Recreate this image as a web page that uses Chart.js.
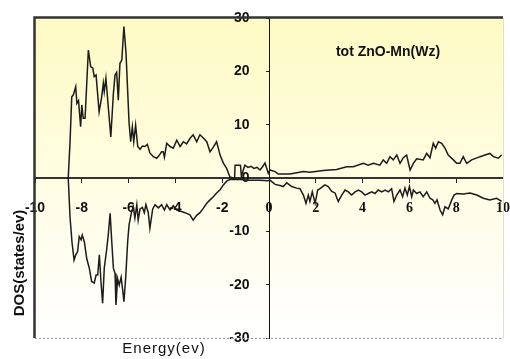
<!DOCTYPE html>
<html>
<head>
<meta charset="utf-8">
<script src="https://cdn.jsdelivr.net/npm/chart.js@4/dist/chart.umd.min.js"></script>
<style>
  html, body { margin: 0; padding: 0; background: #fff; }
  #wrap { width: 510px; height: 359px; }
</style>
</head>
<body>
<div id="wrap"><canvas id="dosChart" width="510" height="359"></canvas></div>
<script>
// spin up (positive DOS)
const upEnergy = [-8.58, -8.50, -8.43, -8.36, -8.26, -8.21, -8.14, -8.05, -8.00, -7.94, -7.86, -7.72, -7.62, -7.53, -7.47, -7.39,
  -7.26, -7.15, -7.08, -7.04, -6.97, -6.87, -6.76, -6.65, -6.58, -6.51, -6.44, -6.37, -6.29, -6.20, -6.11, -5.98,
  -5.91, -5.84, -5.78, -5.70, -5.61, -5.51, -5.41, -5.30, -5.20, -5.09, -4.94, -4.80, -4.70, -4.59, -4.52, -4.47,
  -4.37, -4.23, -4.09, -3.94, -3.80, -3.66, -3.52, -3.38, -3.24, -3.09, -2.95, -2.81, -2.66, -2.52, -2.38, -2.24,
  -2.09, -1.95, -1.81, -1.67, -1.53, -1.47, -1.45, -1.31, -1.22, -1.18, -1.10, -1.03, -0.90, -0.77, -0.64, -0.51,
  -0.38, -0.26, -0.17, -0.03, 0.04, 0.26, 0.40, 0.90, 1.47, 1.75, 2.32, 2.89, 3.32, 3.60, 4.03, 4.24,
  4.46, 4.74, 4.88, 5.03, 5.17, 5.31, 5.46, 5.60, 5.74, 5.88, 6.03, 6.17, 6.31, 6.59, 6.74, 6.88,
  7.02, 7.12, 7.24, 7.38, 7.52, 7.66, 7.88, 8.02, 8.16, 8.30, 8.45, 8.66, 9.02, 9.23, 9.44, 9.59, 9.80, 9.94];
const upDos = [0, 7, 15.2, 15.6, 17.1, 14.0, 14.5, 9.6, 13.7, 11.2, 11.2, 24.0, 20.9, 20.6, 19.0, 19.3,
  12.4, 15.2, 17.8, 16.2, 18.7, 13.4, 7.7, 15.9, 19.3, 19.8, 14.6, 21.5, 22.1, 28.4, 23.4, 10.3,
  6.8, 9.6, 6.8, 9.9, 5.9, 5.4, 6.0, 5.9, 6.3, 4.7, 4.0, 3.7, 4.2, 4.9, 4.9, 3.9,
  6.5, 5.9, 5.6, 7.1, 5.9, 6.8, 6.4, 7.4, 8.1, 6.8, 8.1, 7.5, 6.8, 4.9, 5.8, 6.8,
  4.3, 2.8, 1.8, 0.2, 0, 0, 2.4, 2.4, 2.4, 0.3, 1.5, 2.4, 2.0, 2.2, 1.8, 2.0,
  1.5, 2.2, 2.8, 0.9, 1.5, 1.2, 0.75, 0.75, 1.2, 1.1, 1.4, 1.6, 2.1, 2.1, 2.75, 2.4,
  2.75, 2.4, 3.4, 2.75, 4.0, 3.4, 4.3, 2.75, 3.8, 4.3, 1.5, 2.75, 3.6, 3.4, 4.6, 3.8,
  6.5, 5.6, 6.8, 6.5, 5.6, 4.3, 3.4, 2.75, 2.75, 4.0, 2.75, 3.4, 4.0, 4.3, 4.6, 4.0, 3.7, 4.3];

// spin down (negative DOS)
const downEnergy = [-8.58, -8.50, -8.42, -8.33, -8.26, -8.18, -8.11, -8.03, -7.98, -7.89, -7.79, -7.68, -7.58, -7.47, -7.39, -7.32,
  -7.25, -7.18, -7.11, -7.04, -6.94, -6.87, -6.79, -6.72, -6.65, -6.58, -6.54, -6.47, -6.40, -6.32, -6.25, -6.20,
  -6.12, -6.04, -5.98, -5.87, -5.80, -5.73, -5.65, -5.59, -5.51, -5.41, -5.33, -5.26, -5.16, -5.09, -4.97, -4.87,
  -4.73, -4.59, -4.47, -4.37, -4.23, -4.09, -3.94, -3.80, -3.59, -3.38, -3.24, -3.09, -2.95, -2.81, -2.66, -2.52,
  -2.38, -2.24, -2.09, -1.95, -1.81, -1.67, -1.24, -0.81, -0.38, -0.04, 0.04, 0.26, 0.47, 0.61, 0.76, 0.97,
  1.18, 1.32, 1.47, 1.58, 1.68, 1.75, 1.85, 1.97, 2.08, 2.18, 2.39, 2.53, 2.68, 2.82, 2.96, 3.11,
  3.25, 3.39, 3.53, 3.68, 3.82, 3.96, 4.10, 4.24, 4.39, 4.53, 4.67, 4.82, 4.96, 5.10, 5.24, 5.34,
  5.46, 5.60, 5.71, 5.81, 5.91, 6.00, 6.10, 6.17, 6.31, 6.45, 6.59, 6.74, 6.88, 7.00, 7.09, 7.18,
  7.31, 7.42, 7.52, 7.66, 7.81, 7.91, 8.02, 8.30, 8.59, 8.88, 9.16, 9.44, 9.73, 9.94];
const downDos = [0, -7.5, -12, -15.4, -14.4, -13.8, -11.0, -11.6, -10.7, -12.0, -15.1, -16.9, -19.4, -19.7, -18.2, -18.2,
  -14.4, -19.5, -23.5, -16.9, -13.5, -10.7, -6.6, -11.9, -16.9, -17.9, -23.8, -18.9, -20.1, -18.6, -21.1, -23.2,
  -18.4, -11.9, -8.8, -6.3, -5.4, -7.5, -5.0, -7.9, -5.8, -5.5, -6.5, -5.0, -6.5, -9.4, -5.8, -5.0,
  -5.6, -5.0, -6.0, -5.0, -6.0, -5.2, -6.0, -6.2, -6.5, -6.9, -7.9, -7.0, -6.5, -5.7, -4.75, -4.1,
  -3.5, -2.8, -2.2, -1.3, -0.6, -0.3, -0.3, -0.4, -0.4, -0.5, -0.4, -1.2, -1.4, -1.6, -0.9, -1.6,
  -1.9, -2.0, -3.2, -4.75, -3.2, -4.4, -2.6, -4.75, -2.25, -2.0, -1.3, -1.6, -2.5, -2.8, -4.4, -3.2,
  -2.25, -2.6, -3.2, -2.6, -2.25, -2.6, -3.2, -2.9, -2.6, -2.9, -2.25, -2.6, -2.25, -2.6, -2.0, -4.4,
  -3.2, -2.25, -3.5, -1.9, -3.2, -1.6, -3.5, -2.25, -2.9, -2.6, -3.5, -2.6, -3.8, -4.1, -4.75, -4.1,
  -6.0, -6.9, -5.4, -5.8, -4.1, -3.2, -2.9, -3.0, -2.8, -3.2, -3.8, -4.1, -3.8, -4.4];

const chartTitle = "tot ZnO-Mn(Wz)";
const xTitle = "Energy(ev)";
const yTitle = "DOS(states/ev)";

function toPoints(xs, ys) {
  return xs.map((x, i) => ({ x: x, y: ys[i] }));
}

const decor = {
  id: "decor",
  beforeDraw(chart) {
    const { ctx, chartArea: a } = chart;
    const g = ctx.createLinearGradient(0, a.top, 0, a.bottom);
    g.addColorStop(0, "#fdfac4");
    g.addColorStop(0.5, "#fffde2");
    g.addColorStop(1, "#ffffff");
    ctx.save();
    ctx.fillStyle = g;
    ctx.fillRect(a.left, a.top, a.right - a.left, a.bottom - a.top);
    ctx.restore();
  },
  afterDraw(chart) {
    const { ctx, chartArea: a } = chart;
    ctx.save();
    // frame: dark top/left, light right, dotted bottom
    ctx.strokeStyle = "#dddddd";
    ctx.lineWidth = 1;
    ctx.beginPath();
    ctx.moveTo(a.right + 0.5, a.top);
    ctx.lineTo(a.right + 0.5, a.bottom);
    ctx.stroke();
    ctx.strokeStyle = "#999999";
    ctx.setLineDash([2, 2]);
    ctx.beginPath();
    ctx.moveTo(a.left, a.bottom + 0.5);
    ctx.lineTo(a.right, a.bottom + 0.5);
    ctx.stroke();
    ctx.setLineDash([]);
    ctx.strokeStyle = "#333333";
    ctx.lineWidth = 2.5;
    ctx.beginPath();
    ctx.moveTo(a.left - 0.5, a.bottom);
    ctx.lineTo(a.left - 0.5, a.top - 0.5);
    ctx.lineTo(a.right, a.top - 0.5);
    ctx.stroke();

    ctx.fillStyle = "#111";
    ctx.textAlign = "center";
    ctx.textBaseline = "middle";
    ctx.font = "bold 14px 'Liberation Sans', Arial";
    ctx.fillText(chartTitle, 388, 52);

    ctx.font = "15px 'Liberation Sans', Arial";
    ctx.letterSpacing = "1px";
    ctx.fillText(xTitle, 164, 349);

    ctx.letterSpacing = "0px";
    ctx.font = "bold 15px 'Liberation Sans', Arial";
    ctx.translate(20, 263);
    ctx.rotate(-Math.PI / 2);
    ctx.fillText(yTitle, 0, 0);
    ctx.restore();
  }
};

const ctx = document.getElementById("dosChart").getContext("2d");
const myChart = new Chart(ctx, {
  type: "scatter",
  data: {
    datasets: [
      {
        label: "spin up",
        data: toPoints(upEnergy, upDos),
        showLine: true,
        borderColor: "#1c1c1c",
        borderWidth: 1.5,
        pointRadius: 0,
        tension: 0,
      },
      {
        label: "spin down",
        data: toPoints(downEnergy, downDos),
        showLine: true,
        borderColor: "#1c1c1c",
        borderWidth: 1.5,
        pointRadius: 0,
        tension: 0,
      },
    ],
  },
  options: {
    responsive: false,
    animation: false,
    layout: { padding: { left: 35, right: 7, top: 18, bottom: 21 } },
    plugins: {
      legend: { display: false },
      tooltip: { enabled: false },
    },
    scales: {
      x: {
        type: "linear",
        position: { y: 0 },
        min: -10,
        max: 10,
        afterFit: (s) => {
          // labels sit far below the axis; don't let that padding shrink the plot
          s.paddingLeft = 0;
          s.paddingRight = 0;
        },
        grid: { drawOnChartArea: false, tickLength: 4, color: "#222", tickWidth: 1 },
        border: { color: "#333", width: 2 },
        ticks: {
          stepSize: 2,
          autoSkip: false,
          maxRotation: 0,
          padding: 18,
          color: "#111",
          font: (c) => ({
            size: 14,
            weight: "bold",
            family: c.tick && c.tick.value >= 0 ? "'Liberation Serif', 'Times New Roman'" : "'Liberation Sans', Arial",
          }),
        },
      },
      y: {
        type: "linear",
        position: { x: 0 },
        min: -30,
        max: 30,
        grid: { drawOnChartArea: false, tickLength: 3, color: "#222" },
        border: { color: "#111", width: 1 },
        ticks: {
          stepSize: 10,
          autoSkip: false,
          color: "#111",
          font: { size: 14, weight: "bold", family: "'Liberation Sans', Arial" },
          callback: (v) => v + "     ",
        },
      },
    },
  },
  plugins: [decor],
});
</script>
</body>
</html>
